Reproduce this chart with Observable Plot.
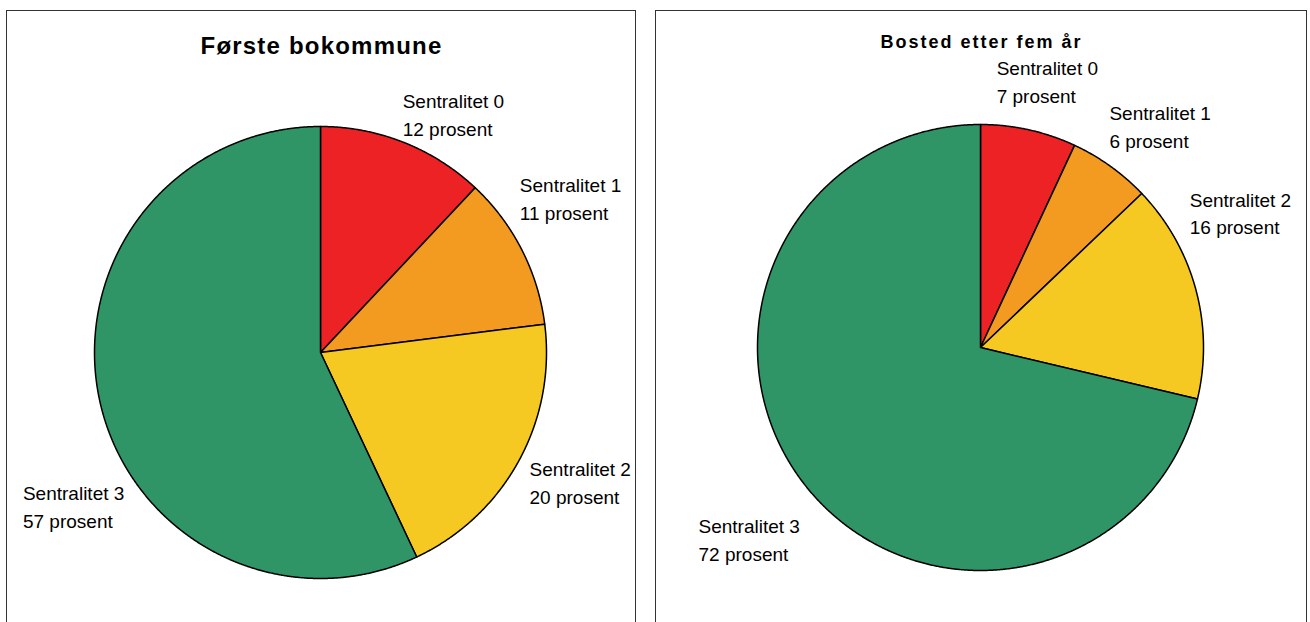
<!DOCTYPE html>
<html><head><meta charset="utf-8">
<script src="https://cdn.jsdelivr.net/npm/d3@7"></script>
<script src="https://cdn.jsdelivr.net/npm/@observablehq/plot@0.6"></script>
<style>
body{margin:0;background:#fff;font-family:"Liberation Sans",Arial,sans-serif;}
.box{position:absolute;border:1px solid #333;overflow:hidden;background:#fff}
.box svg{position:absolute;left:0;top:0}
</style></head><body>
<div id="b1" class="box" style="left:6px;top:10px;width:628px;height:640px"></div>
<div id="b2" class="box" style="left:655px;top:10px;width:650px;height:640px"></div>
<script>
// ---- data ----
const categories = ["Sentralitet 0", "Sentralitet 1", "Sentralitet 2", "Sentralitet 3"];
const colors = ["#ED2224", "#F39A20", "#F5C822", "#2F9567"];
const titleFirst = "Første bokommune";
const titleAfter = "Bosted etter fem år";
const valuesFirst = [12, 11, 20, 57];
const valuesAfter = [7, 6, 16, 72];
const unit = "prosent";

// ---- layout (pixel styling, not data) ----
const layoutFirst = {el: "b1", width: 628, height: 640, cx: 313, cy: 341, r: 226,
  titleSize: 24, titleY: 25, titleSpacing: 1.2,
  nudges: [[-1, -54], [-2, -78], [11, -5], [-77, 78]]};
const layoutAfter = {el: "b2", width: 650, height: 640, cx: 324, cy: 336, r: 223,
  titleSize: 18, titleY: 24, titleSpacing: 2.0,
  nudges: [[-32, -75], [-1, -66], [-6, -102.5], [-107, 27]]};

function makePie(values, title, L) {
  const arcs = d3.pie().sort(null).value(d => d)(values);
  const step = Math.PI / 720;
  const pts = [];
  arcs.forEach((a, i) => {
    const cat = categories[i];
    pts.push({cat, x: 0, y: 0});
    const n = Math.max(2, Math.ceil((a.endAngle - a.startAngle) / step));
    for (let k = 0; k <= n; k++) {
      const t = a.startAngle + (a.endAngle - a.startAngle) * k / n;
      pts.push({cat, x: Math.sin(t), y: Math.cos(t)});
    }
    pts.push({cat, x: 0, y: 0});
  });
  const labels = arcs.map((a, i) => {
    const m = (a.startAngle + a.endAngle) / 2;
    return {x: Math.sin(m), y: Math.cos(m), text: `${categories[i]}\n${values[i]} ${unit}`, i};
  });
  const plot = Plot.plot({
    width: L.width, height: L.height,
    margin: 0,
    x: {domain: [-1, 1], range: [L.cx - L.r, L.cx + L.r], axis: null},
    y: {domain: [-1, 1], range: [L.cy + L.r, L.cy - L.r], axis: null},
    color: {domain: categories, range: colors},
    style: {fontFamily: '"Liberation Sans", Arial, sans-serif', background: "transparent", overflow: "visible"},
    marks: [
      Plot.line(pts, {x: "x", y: "y", z: "cat", fill: "cat", stroke: "#000", strokeWidth: 1.5, strokeLinejoin: "round", curve: "linear"}),
      ...labels.map(l => Plot.text([l], {x: "x", y: "y", text: "text", textAnchor: "start", lineAnchor: "top",
        fontSize: 19, lineHeight: 1.47, fill: "#000", dx: L.nudges[l.i][0], dy: L.nudges[l.i][1]})),
      Plot.text([title], {frameAnchor: "top", dy: L.titleY, lineAnchor: "top", fontSize: L.titleSize, fontWeight: "bold", fill: "#000"})
    ]
  });
  plot.querySelectorAll("text").forEach(t => {
    if (t.textContent === title) t.style.letterSpacing = L.titleSpacing + "px";
  });
  document.getElementById(L.el).appendChild(plot);
}

makePie(valuesFirst, titleFirst, layoutFirst);
makePie(valuesAfter, titleAfter, layoutAfter);
</script>
</body></html>
